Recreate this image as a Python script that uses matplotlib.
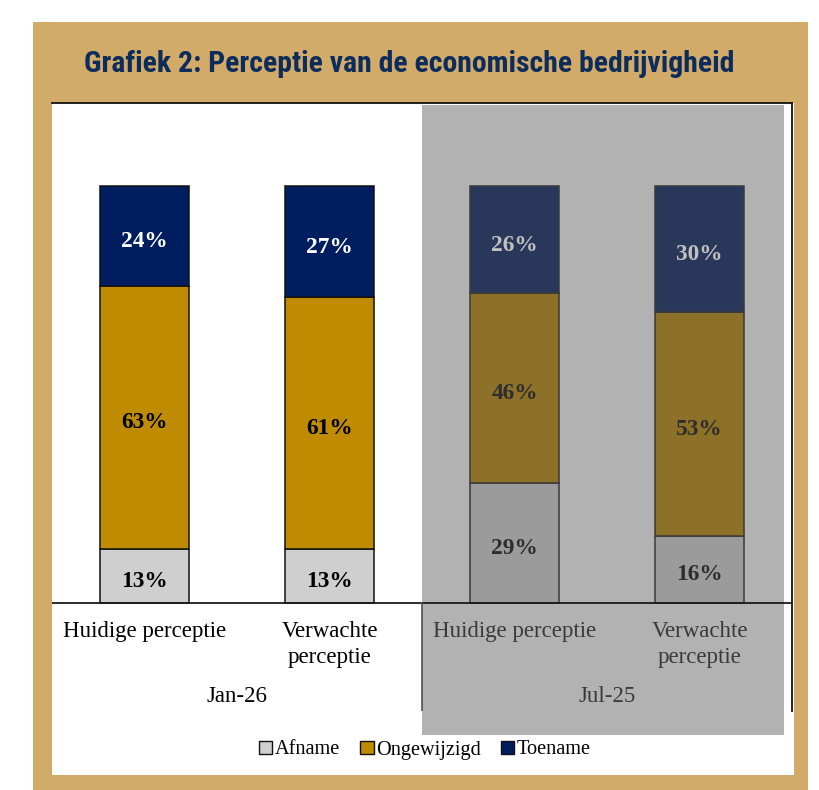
import numpy as np
import matplotlib.pyplot as plt
from matplotlib import font_manager
from matplotlib.patches import Patch, Rectangle

# data (percentages, rounded as printed)
periods = ['Jan-26', 'Jul-25']
categories = ['Huidige perceptie', 'Verwachte\nperceptie',
              'Huidige perceptie', 'Verwachte\nperceptie']
series = ['Afname', 'Ongewijzigd', 'Toename']
afname = [13, 13, 29, 16]
ongewijzigd = [63, 61, 46, 53]
toename = [24, 27, 26, 30]

title = 'Grafiek 2: Perceptie van de economische bedrijvigheid'


def pick_font(names, weight='normal'):
    for n in names:
        try:
            font_manager.findfont(font_manager.FontProperties(family=n, weight=weight),
                                  fallback_to_default=False)
            return n
        except ValueError:
            pass
    return 'DejaVu Sans'


title_font = pick_font(['Roboto Condensed', 'Liberation Sans Narrow', 'Roboto'], 'bold')
serif = pick_font(['Liberation Serif', 'DejaVu Serif'])

col_now = ['#CFCFCF', '#BF8B00', '#001E5F']
col_old = ['#9B9B9B', '#8E7128', '#28375A']
txt_now = ['black', 'black', 'white']
txt_old = ['#2E2E2E', '#2E2E2E', '#C0C0C0']

W, H = 820, 790
fig = plt.figure(figsize=(W / 100, H / 100), dpi=100)

# gold frame and white panel
fig.patches.append(Rectangle((33 / W, 0), (808 - 33) / W, (790 - 22) / H,
                             transform=fig.transFigure, facecolor='#D3AB68',
                             edgecolor='none', zorder=-3))
fig.patches.append(Rectangle((52 / W, 1 - 775 / H), (794 - 52) / W, (775 - 103) / H,
                             transform=fig.transFigure, facecolor='white',
                             edgecolor='none', zorder=-2))

fig.text(84 / W, 1 - 64 / H, title, ha='left', va='center', fontsize=21.4,
         fontweight='bold', color='#0C2D5C', family=title_font)

ax = fig.add_axes([52 / W, 1 - 711 / H, (792 - 52) / W, (711 - 103) / H])
ax.set_facecolor('none')
ax.set_xlim(-0.5, 3.5)
ylo, yhi = -25.9, 119.9
ax.set_ylim(ylo, yhi)
ax.set_xticks([])
ax.set_yticks([])
for s in ['left', 'bottom']:
    ax.spines[s].set_visible(False)
for s in ['top', 'right']:
    ax.spines[s].set_linewidth(1.3)
    ax.spines[s].set_color('#111111')

# shaded block for the previous survey
ax.add_patch(Rectangle((1.5, -31.7), 1.957, yhi - 0.4 + 31.7, facecolor='#B2B2B2',
                       edgecolor='none', zorder=0.5, clip_on=False))

ax.axhline(0, color='#1a1a1a', lw=1.3, zorder=3)
ax.plot([1.5, 1.5], [ylo, 0], color='#555555', lw=1.2, zorder=3)

x = np.arange(len(categories))
vals = np.array([afname, ongewijzigd, toename], dtype=float)
shares = vals / vals.sum(axis=0) * 100
bottom = np.zeros(len(categories))
for i, name in enumerate(series):
    colors = [col_now[i]] * 2 + [col_old[i]] * 2
    edges = ['#111111'] * 2 + ['#3A3A3A'] * 2
    ax.bar(x, shares[i], 0.48, bottom=bottom, color=colors, edgecolor=edges,
           linewidth=1.1, zorder=2)
    for j in range(len(x)):
        tc = txt_now[i] if j < 2 else txt_old[i]
        ax.text(x[j], bottom[j] + shares[i][j] / 2 - 1.3, f'{int(vals[i][j])}%', ha='center',
                va='center', fontsize=16.8, fontweight='bold', color=tc, family=serif,
                zorder=4)
    bottom += shares[i]

for j, c in enumerate(categories):
    ax.text(x[j], -4.3, c, ha='center', va='top', fontsize=16.5, family=serif,
            color='black' if j < 2 else '#3A3A3A', linespacing=1.32)
for k, p in enumerate(periods):
    ax.text(2 * k + 0.5, -22.5, p, ha='center', va='center', fontsize=16.5, family=serif,
            color='black' if k == 0 else '#3A3A3A')

handles = [Patch(facecolor=col_now[i], edgecolor='#111111', linewidth=1.0) for i in range(3)]
fig.legend(handles, series, loc='center', bbox_to_anchor=(425 / W, 1 - 750 / H), ncol=3,
           frameon=False, handlelength=0.65, handleheight=0.65, handletextpad=0.12,
           columnspacing=1.0, prop={'family': serif, 'size': 14.6})

fig.savefig('out.png', dpi=100)
